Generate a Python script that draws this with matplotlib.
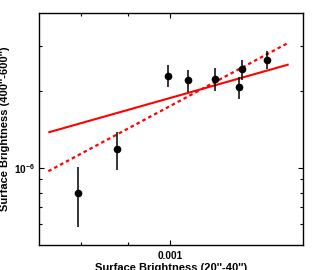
import matplotlib
matplotlib.use("Agg")
import matplotlib.pyplot as plt
from matplotlib.ticker import FixedLocator, NullFormatter, FixedFormatter

plt.rcParams['font.family'] = ['Liberation Sans', 'DejaVu Sans']
plt.rcParams['font.weight'] = 'bold'
plt.rcParams['mathtext.fontset'] = 'custom'
plt.rcParams['mathtext.rm'] = 'Liberation Sans:bold'
plt.rcParams['mathtext.bf'] = 'Liberation Sans:bold'
plt.rcParams['mathtext.it'] = 'Liberation Sans:bold'

# data
x_sb = [7.94e-4, 8.76e-4, 0.996e-3, 1.047e-3, 1.118e-3, 1.189e-3, 1.197e-3, 1.273e-3]
y_sb = [7.98e-7, 1.184e-6, 2.30e-6, 2.21e-6, 2.24e-6, 2.07e-6, 2.44e-6, 2.66e-6]
y_err = [0.21e-6, 0.20e-6, 0.22e-6, 0.22e-6, 0.23e-6, 0.21e-6, 0.22e-6, 0.22e-6]

x_fit = [7.38e-4, 1.345e-3]
y_fit_solid = [1.377e-6, 2.544e-6]
y_fit_dashed = [9.7e-7, 3.10e-6]

x_major = [1e-3]
x_major_labels = ['0.001']
x_minor = [8e-4, 9e-4]
y_major = [1e-6]
y_major_labels = ['$10^{-6}$']
y_minor = [6e-7, 7e-7, 8e-7, 9e-7, 2e-6, 3e-6]

x_label = "Surface Brightness (20''-40'')"
y_label = "Surface Brightness (400''-600'')"

fig = plt.figure(figsize=(3.15, 2.70), dpi=100)
ax = fig.add_axes([39 / 315, 25 / 270, 263.5 / 315, 232.3 / 270])
ax.set_xscale('log')
ax.set_yscale('log')

ax.plot(x_fit, y_fit_solid, color='#ff0000', lw=1.5, solid_capstyle='butt')
ax.plot(x_fit, y_fit_dashed, color='#ff0000', lw=1.6, linestyle=(0, (1.6, 1.4)))
ax.errorbar(x_sb, y_sb, yerr=y_err, fmt='o', color='black', ms=4.5,
            elinewidth=1.1, capsize=0)

ax.set_xlim(7.21e-4, 1.392e-3)
ax.set_ylim(4.98e-7, 4.06e-6)

ax.xaxis.set_major_locator(FixedLocator(x_major))
ax.xaxis.set_major_formatter(FixedFormatter(x_major_labels))
ax.xaxis.set_minor_locator(FixedLocator(x_minor))
ax.xaxis.set_minor_formatter(NullFormatter())
ax.yaxis.set_major_locator(FixedLocator(y_major))
ax.yaxis.set_major_formatter(FixedFormatter(y_major_labels))
ax.yaxis.set_minor_locator(FixedLocator(y_minor))
ax.yaxis.set_minor_formatter(NullFormatter())

ax.tick_params(which='both', direction='in', top=True, right=True, width=0.8,
               color='black', labelsize=7.2)
ax.tick_params(axis='x', pad=4.5)
ax.tick_params(axis='y', pad=3)
ax.tick_params(which='major', length=3.6)
ax.tick_params(which='minor', length=2.2)
for s in ax.spines.values():
    s.set_linewidth(1.0)
    s.set_color('black')

ax.set_xlabel(x_label, fontsize=8, fontweight='bold', labelpad=1.0)
ax.set_ylabel(y_label, fontsize=8, fontweight='bold', labelpad=2.5)

fig.savefig('out.png', dpi=100)
